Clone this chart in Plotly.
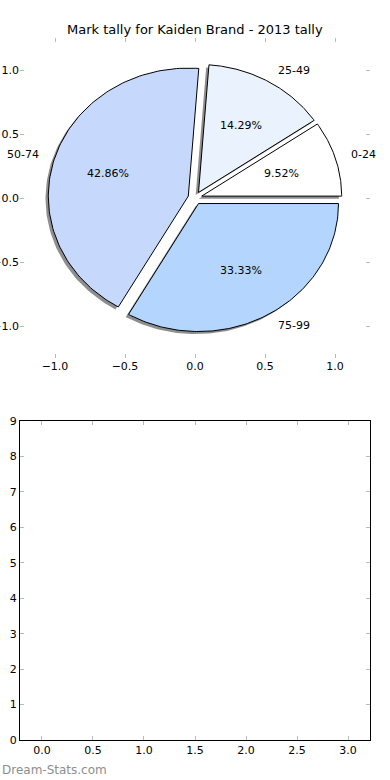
import numpy as np
import plotly.graph_objects as go

# ---- data ----
labels = ["0-24", "25-49", "50-74", "75-99"]
counts = [2, 3, 9, 7]
colors = ["#ffffff", "#eaf2fe", "#c6d9fd", "#b3d5fe"]
explode = [0.05, 0.05, 0.05, 0.05]
title = "Mark tally for Kaiden Brand - 2013 tally"
pie_ticks = [-1.0, -0.5, 0.0, 0.5, 1.0]
bottom_xticks = [0.0, 0.5, 1.0, 1.5, 2.0, 2.5, 3.0]
bottom_yticks = [0, 1, 2, 3, 4, 5, 6, 7, 8, 9]

FONT = "DejaVu Sans"
fig = go.Figure()

total = float(sum(counts))
fracs = [c / total for c in counts]

# compute wedge geometry from data (matplotlib-style pie, startangle 0, ccw)
wedges = []
theta = 0.0
for f, e in zip(fracs, explode):
    t1 = theta
    t2 = theta + 360.0 * f
    mid = np.deg2rad((t1 + t2) / 2.0)
    cx, cy = e * np.cos(mid), e * np.sin(mid)
    ang = np.deg2rad(np.linspace(t1, t2, 120))
    xs = np.concatenate([[cx], cx + np.cos(ang), [cx]])
    ys = np.concatenate([[cy], cy + np.sin(ang), [cy]])
    wedges.append((xs, ys, cx, cy, mid, f))
    theta = t2

# shadows first
for xs, ys, *_ in wedges:
    fig.add_trace(go.Scatter(x=xs - 0.02, y=ys - 0.02, mode="lines", fill="toself",
                             fillcolor="rgba(50,50,50,0.55)", line=dict(width=0),
                             hoverinfo="skip", showlegend=False, xaxis="x", yaxis="y"))
# wedges
for (xs, ys, *_), col in zip(wedges, colors):
    fig.add_trace(go.Scatter(x=xs, y=ys, mode="lines", fill="toself",
                             fillcolor=col, line=dict(color="black", width=1),
                             hoverinfo="skip", showlegend=False, xaxis="x", yaxis="y"))

annotations = []
for (xs, ys, cx, cy, mid, f), lab in zip(wedges, labels):
    lx = cx + 1.1 * np.cos(mid)
    ly = cy + 1.1 * np.sin(mid)
    annotations.append(dict(x=lx, y=ly, xref="x", yref="y", text=lab, showarrow=False,
                            xanchor="left" if lx > 0 else "right", yanchor="middle",
                            font=dict(family=FONT, size=11, color="black")))
    px = cx + 0.6 * np.cos(mid)
    py = cy + 0.6 * np.sin(mid)
    annotations.append(dict(x=px, y=py, xref="x", yref="y", text="%.2f%%" % (f * 100),
                            showarrow=False, xanchor="center", yanchor="middle",
                            font=dict(family=FONT, size=11, color="black")))

# title
annotations.append(dict(x=0.5, y=1 - 30 / 780, xref="paper", yref="paper", text=title,
                        showarrow=False, xanchor="center", yanchor="middle",
                        font=dict(family=FONT, size=13, color="black")))
# watermark
annotations.append(dict(x=0.0, y=1 - 770 / 780, xref="paper", yref="paper",
                        text="Dream-Stats.com", showarrow=False,
                        xanchor="left", yanchor="middle",
                        font=dict(family=FONT, size=12, color="#8e8e8e")))

# invisible trace to activate bottom axes
fig.add_trace(go.Scatter(x=[], y=[], mode="markers", xaxis="x2", yaxis="y2",
                         showlegend=False, hoverinfo="skip"))

tick_common = dict(ticks="inside", ticklen=4, tickcolor="#b8b8b8", tickwidth=1,
                   showgrid=False, zeroline=False, automargin=False,
                   tickfont=dict(family=FONT, size=11, color="black"))

xd = [20 / 390, 370 / 390]
fig.update_layout(
    width=390, height=780, margin=dict(l=0, r=0, t=0, b=0, autoexpand=False),
    paper_bgcolor="white", plot_bgcolor="white",
    showlegend=False,
    xaxis=dict(domain=xd, anchor="y", range=[-1.25, 1.25], tickvals=pie_ticks,
               ticktext=["\u22121.0", "\u22120.5", "0.0", "0.5", "1.0"],
               showline=False, mirror="ticks", **tick_common),
    yaxis=dict(domain=[1 - 358 / 780, 1 - 38 / 780], anchor="x", range=[-1.25, 1.25],
               tickvals=pie_ticks, ticktext=["\u22121.0", "\u22120.5", "0.0", "0.5", "1.0"],
               showline=False, mirror="ticks", **tick_common),
    xaxis2=dict(domain=xd, anchor="y2", range=[-0.215, 3.215], tickvals=bottom_xticks,
                ticktext=["%.1f" % v for v in bottom_xticks],
                showline=True, linecolor="black", linewidth=1.2, mirror="ticks",
                **tick_common),
    yaxis2=dict(domain=[1 - 740 / 780, 1 - 421 / 780], anchor="x2", range=[0, 9],
                tickvals=bottom_yticks, ticktext=[str(v) for v in bottom_yticks],
                showline=True, linecolor="black", linewidth=1.2, mirror="ticks",
                **tick_common),
    annotations=annotations,
)

fig.write_html("out.html", config={"displayModeBar": False},
               post_script="document.body.style.margin='0';document.body.style.overflow='hidden';")
